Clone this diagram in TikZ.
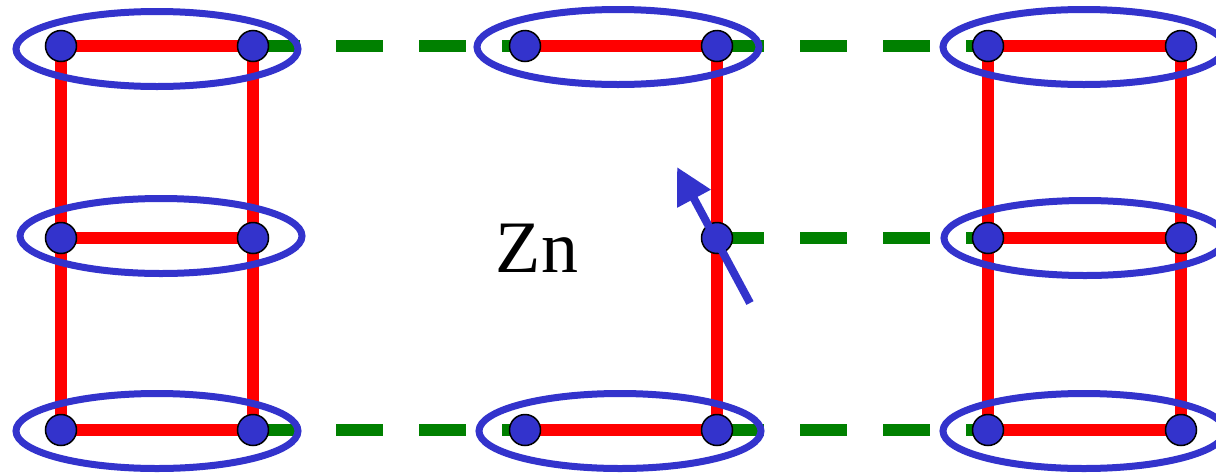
\documentclass[tikz,border=0pt]{standalone}
\usepackage{fontspec}
\setmainfont{Liberation Serif}
\usepackage{xcolor}
\usetikzlibrary{arrows.meta, backgrounds}
\definecolor{spinblue}{RGB}{51,51,204}
\definecolor{bondred}{RGB}{255,0,0}
\definecolor{chaingreen}{RGB}{0,128,0}

\begin{document}
\begin{tikzpicture}[x=1pt, y=-1pt,
    atom/.style={circle, fill=spinblue, draw=black, line width=1.5pt,
      minimum size=31pt, inner sep=0pt},
    bond/.style={bondred, line width=12pt},
    link/.style={chaingreen, line width=12pt, dash pattern=on 47pt off 36pt},
    dimer/.style={spinblue, line width=7pt},
    spin/.style={spinblue, line width=8pt, -{Triangle[length=36pt, width=36pt]}}]
  \useasboundingbox (0,0) rectangle (1216,472);
  % Atom sites (column c, row r); site (3,2) is the Zn impurity, left empty
  \foreach \c/\x in {1/61, 2/253, 3/525, 4/717, 5/988, 6/1181} {
    \foreach \r/\y in {1/46, 2/238, 3/430} {
      \coordinate (s\c\r) at (\x,\y);
    }
  }
  \foreach \p in {s11,s12,s13,s21,s22,s23,s31,s33,s41,s42,s43,s51,s52,s53,s61,s62,s63} {
    \node[atom] (a\p) at (\p) {};
  }
  % Bonds and interladder links under the atoms
  \begin{pgfonlayer}{background}
    \foreach \a/\b in {s11/s13, s21/s23, s41/s43, s51/s53, s61/s63,
                       s11/s21, s12/s22, s13/s23, s31/s41, s33/s43,
                       s51/s61, s52/s62, s53/s63} {
      \draw[bond] (a\a.center) -- (a\b.center);
    }
    \foreach \a/\b in {s21/s31, s41/s51, s42/s52, s23/s33, s43/s53} {
      \draw[link] (a\a.center) -- (a\b.center);
    }
  \end{pgfonlayer}
  % Rung singlets
  \foreach \x/\y in {157/49, 618/47, 1084/47, 161/236, 1085/238,
                     157/431, 620/431, 1084/431} {
    \draw[dimer] (\x,\y) ellipse [x radius=141, y radius=37.5];
  }
  % Free spin next to the impurity
  \coordinate (spin tail) at (750,303);
  \coordinate (spin head) at (677,167);
  \draw[spin] (spin tail) -- (spin head);
  \node[font=\fontsize{74}{80}\selectfont, anchor=base, inner sep=0pt] (zn) at (537,272) {Zn};
\end{tikzpicture}
\end{document}
